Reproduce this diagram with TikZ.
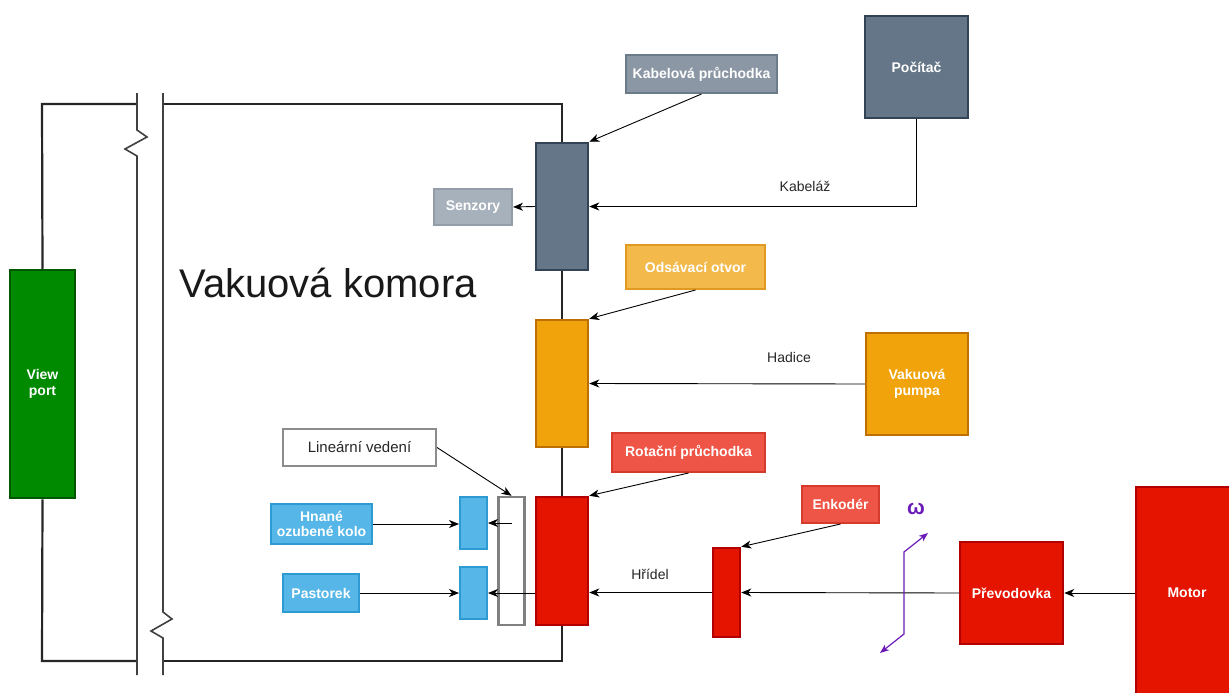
\documentclass[tikz,border=0pt]{standalone}
\usepackage{fontspec}
\setmainfont{Liberation Sans}
\usetikzlibrary{arrows.meta}
\definecolor{slate}{HTML}{647687}\definecolor{slateD}{HTML}{314354}
\definecolor{slateL}{HTML}{8B97A4}\definecolor{slateLD}{HTML}{6C7B8A}
\definecolor{slateX}{HTML}{A7B1BB}\definecolor{slateXD}{HTML}{929DA9}
\definecolor{orng}{HTML}{F0A30A}\definecolor{orngD}{HTML}{BD7000}
\definecolor{orngL}{HTML}{F3B94A}\definecolor{orngLD}{HTML}{E09A22}
\definecolor{rd}{HTML}{E51400}\definecolor{rdD}{HTML}{B20000}
\definecolor{rdL}{HTML}{EE5546}\definecolor{rdLD}{HTML}{D53A2C}
\definecolor{blu}{HTML}{55B6E7}\definecolor{bluD}{HTML}{2E9AD2}
\definecolor{grn}{HTML}{008A00}\definecolor{grnD}{HTML}{005700}
\definecolor{omg}{HTML}{6A1BB8}
\begin{document}
\begin{tikzpicture}[x=1pt,y=-1pt,
  box/.style={draw, line width=2.5pt, rectangle, inner sep=0pt, align=center, text=white, font=\fontsize{14}{16}\selectfont\bfseries},
  lbl/.style={draw, line width=2pt, rectangle, inner sep=0pt, align=center, text=white, font=\fontsize{14}{16}\selectfont\bfseries},
  wall/.style={line width=2.2pt, draw=black!85},
  brk/.style={line width=1.6pt, draw=black!75},
  arr/.style={line width=0.9pt, -{Stealth[length=10pt,width=8pt,inset=3pt]}},
  elbl/.style={font=\fontsize{14}{16}\selectfont, text=black!85},
]
\useasboundingbox (0,0) rectangle (1229,693);
% boxes
\node[box, fill=grn, draw=grnD, minimum width=65, minimum height=228] (vp) at (42.5,384) {View\\port};
\node[box, fill=slate, draw=slateD, minimum width=52, minimum height=127] (kab) at (562,206.5) {};
\node[lbl, fill=slateL, draw=slateLD, minimum width=151, minimum height=38] (kablbl) at (701.5,74) {Kabelová průchodka};
\node[lbl, fill=slateX, draw=slateXD, minimum width=78, minimum height=36] (senz) at (473,207) {Senzory};
\node[box, fill=slate, draw=slateD, minimum width=103, minimum height=102] (pc) at (916.5,67) {Počítač};
\node[box, fill=orng, draw=orngD, minimum width=52, minimum height=127] (ods) at (562,383.5) {};
\node[lbl, fill=orngL, draw=orngLD, minimum width=139, minimum height=44] (odslbl) at (695.5,267) {Odsávací otvor};
\node[box, fill=orng, draw=orngD, minimum width=102, minimum height=102] (pump) at (917,384) {Vakuová\\pumpa};
\node[box, fill=rd, draw=rdD, minimum width=52, minimum height=128] (rot) at (562,561) {};
\node[lbl, fill=rdL, draw=rdLD, minimum width=153, minimum height=39] (rotlbl) at (688.5,452.5) {Rotační průchodka};
\node[lbl, fill=white, draw=black!45, text=black!85, minimum width=153, minimum height=37] (lin) at (359.5,447.5) {\mdseries\fontsize{15}{17}\selectfont Lineární vedení};
\node[box, fill=white, draw=black!50, minimum width=26, minimum height=128] (rail) at (511.5,561) {};
\node[lbl, fill=blu, draw=bluD, minimum width=27, minimum height=52] (b1) at (473.5,523) {};
\node[lbl, fill=blu, draw=bluD, minimum width=27, minimum height=52] (b2) at (473.5,593) {};
\node[lbl, fill=blu, draw=bluD, minimum width=101, minimum height=40, font=\fontsize{14}{15}\selectfont\bfseries] (hn) at (321.5,524) {Hnané\\ozubené kolo};
\node[lbl, fill=blu, draw=bluD, minimum width=76, minimum height=38] (pas) at (321,593) {Pastorek};
\node[box, fill=rd, draw=rdD, minimum width=27, minimum height=89] (enc) at (726.5,592.5) {};
\node[lbl, fill=rdL, draw=rdLD, minimum width=77, minimum height=37] (enclbl) at (840.5,504.5) {Enkodér};
\node[box, fill=rd, draw=rdD, minimum width=103, minimum height=102] (prev) at (1011.5,593) {Převodovka};
\node[box, fill=rd, draw=rdD, minimum width=102, minimum height=212] (motor) at (1187,593) {Motor};
% big label
\node[font=\fontsize{40}{44}\selectfont, text=black!90, anchor=west] (vk) at (176,283) {Vakuová komora};
% walls
\draw[wall] (137,104) -- (42,104) -- (vp.north);
\draw[wall] (vp.south) -- (42,661) -- (137,661);
\draw[wall] (163,104) -- (562,104) -- (kab.north);
\draw[wall] (kab.south) -- (ods.north);
\draw[wall] (ods.south) -- (rot.north);
\draw[wall] (rot.south) -- (562,661) -- (163,661);
% breaks
\draw[brk] (137,93) -- (137,130) -- (147,137) -- (125,149) -- (137,156) -- (137,675);
\draw[brk] (163,93) -- (163,612) -- (172,619) -- (151,631) -- (163,638) -- (163,675);
% arrows
\draw[arr] (kablbl.south) -- (kab.north east);
\draw[arr] (kab.west) -- (senz.east);
\draw[arr] (pc.south) |- (kab.east);
\node[elbl] (kl) at (805,186) {Kabeláž};
\draw[arr] (odslbl.south) -- (ods.north east);
\draw[arr] (pump.west) -- (ods.east);
\node[elbl] (hl) at (789,357) {Hadice};
\draw[arr] (rotlbl.south) -- (rot.north east);
\draw[arr] (lin.east) -- (rail.north);
\draw[arr] (rail.center |- b1.east) -- (b1.east);
\draw[arr] (rot.west |- b2.east) -- (b2.east);
\draw[arr] (hn.east) -- (hn.east -| b1.west);
\draw[arr] (pas.east) -- (pas.east -| b2.west);
\draw[arr] (enc.west) -- (enc.west -| rot.east);
\node[elbl] (hr) at (650,574) {Hřídel};
\draw[arr] (prev.west) -- (enc.east);
\draw[arr] (enclbl.south) -- (enc.north east);
\draw[arr] (motor.west |- prev.east) -- (prev.east);
% omega
\node[text=omg, font=\fontsize{21}{22}\selectfont\bfseries] (om) at (916,509) {ω};
\coordinate (o1) at (928,533);
\coordinate (o2) at (904,552);
\coordinate (o3) at (904,634);
\coordinate (o4) at (880,653);
\draw[line width=1.2pt, draw=omg, {Stealth[length=9pt,width=7pt,inset=2.5pt]}-{Stealth[length=9pt,width=7pt,inset=2.5pt]}] (o1) -- (o2) -- (o3) -- (o4);
\end{tikzpicture}
\end{document}
